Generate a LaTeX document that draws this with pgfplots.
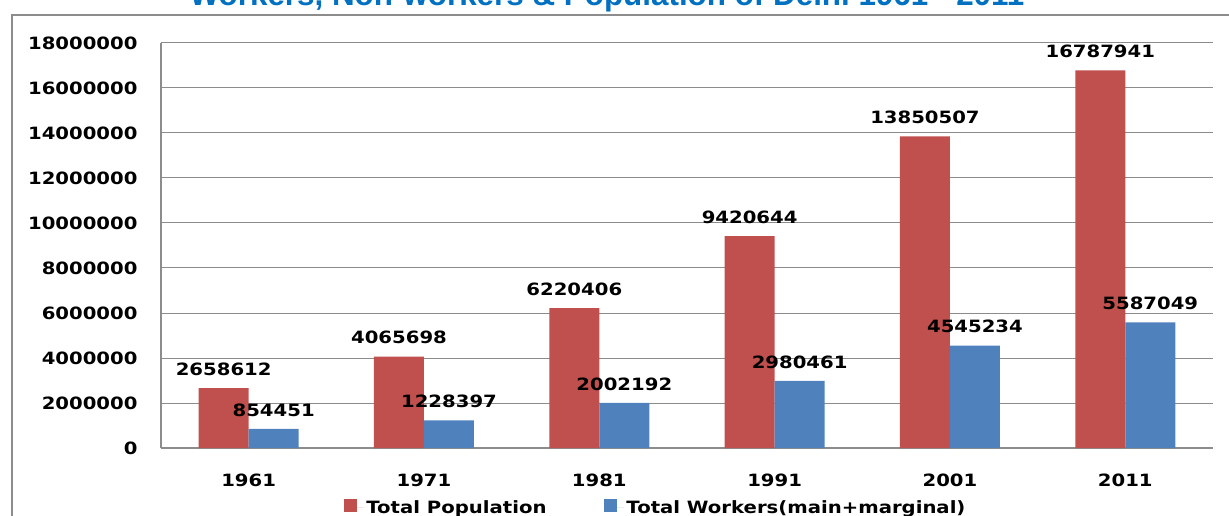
\documentclass[border=0pt]{standalone}
\usepackage{fontspec}
\usepackage{pgfplots}
\pgfplotsset{compat=1.18}
\usepackage{pgfplotstable}
\newfontfamily\chartfont{DejaVu Sans}[FakeStretch=1.16]
\newfontfamily\titlefont{Liberation Sans}
\definecolor{popred}{HTML}{C0504D}
\definecolor{wrkblue}{HTML}{4F81BD}
\definecolor{gridgray}{HTML}{8C8C8C}
\definecolor{titleblue}{HTML}{0070C0}
\pgfplotstableread{
x y label
0 2658612 2658612
1 4065698 4065698
2 6220406 6220406
3 9420644 9420644
4 13850507 13850507
5 16787941 16787941
}\pop
\pgfplotstableread{
x y label
0 854451 854451
1 1228397 1228397
2 2002192 2002192
3 2980461 2980461
4 4545234 4545234
5 5587049 5587049
}\wrk
\begin{document}
\begin{tikzpicture}
\begin{axis}[
  at={(0,0)}, anchor=south west,
  scale only axis, width=1052bp, height=405bp,
  ybar=0pt, bar width=50bp,
  xmin=-0.5, xmax=5.5, ymin=0, ymax=18000000,
  xtick=data, xticklabels={1961,1971,1981,1991,2001,2011},
  ytick={0,2000000,...,18000000},
  scaled y ticks=false,
  /pgf/number format/.cd, fixed, precision=0, 1000 sep={}, assume math mode=true,
  /pgfplots/.cd,
  axis x line*=bottom, axis y line*=left,
  axis line style={gridgray, line width=1.2bp},
  x axis line style={-}, y axis line style={-},
  ymajorgrids, grid style={gridgray, line width=1bp},
  major tick length=0pt,
  tick label style={font=\chartfont\bfseries\fontsize{17}{20}\selectfont, text=black},
  yticklabel style={xshift=-20bp},
  xticklabel style={yshift=-22bp},
  clip=false,
  point meta=explicit symbolic,
  nodes near coords,
  every node near coord/.append style={font=\chartfont\bfseries\fontsize{17}{20}\selectfont, text=black, anchor=south, yshift=9bp},
  legend columns=2,
  legend style={draw=none, at={(axis description cs:0.4705,0)}, anchor=north, yshift=-48bp,
    font=\chartfont\bfseries\fontsize{17}{20}\selectfont,
    /tikz/every even column/.append style={column sep=56bp}},
  legend image code/.code={\fill[#1,draw=none] (0bp,-5bp) rectangle (13bp,8bp); \path (0bp,0bp) -- (20bp,0bp);},
]
\addplot[fill=popred, draw=none] table[x=x, y=y, meta=label] {\pop};
\addplot[fill=wrkblue, draw=none] table[x=x, y=y, meta=label] {\wrk};
\legend{Total Population, Total Workers(main+marginal)}
\end{axis}
\draw[gridgray, line width=2bp] (-149bp,-120bp) -- (-149bp,433bp) -- (1120bp,433bp);
\node[anchor=base, text=titleblue, font=\titlefont\bfseries\fontsize{31.5}{34}\selectfont] at (446bp,442bp) {Workers, Non-workers \& Population of Delhi 1961 - 2011};
\pgfresetboundingbox
\useasboundingbox (-161bp,-68bp) rectangle (1068bp,448bp);
\end{tikzpicture}
\end{document}
